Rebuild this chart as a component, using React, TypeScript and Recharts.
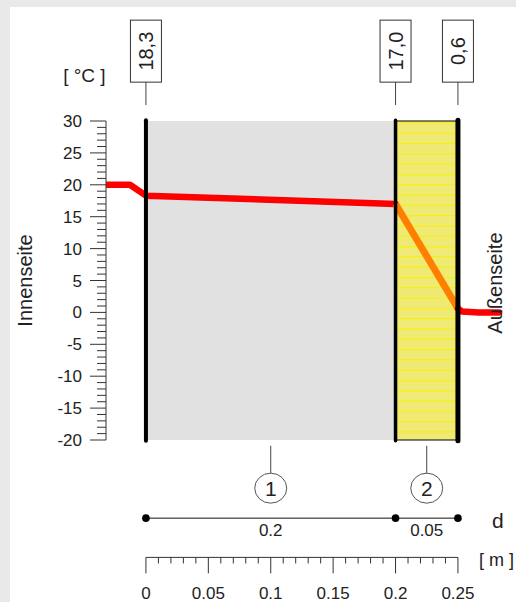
import React from 'react';
import {
  ComposedChart,
  Line,
  XAxis,
  YAxis,
  ReferenceArea,
  ReferenceLine,
  ReferenceDot,
} from 'recharts';

// ---- data ----
const boundaries = [0, 0.2, 0.25];
const layerNames = ['1', '2'];
const layerThickness = [0.2, 0.05];
const layerLabels = ['0.2', '0.05'];
const layerCenters = [0.1, 0.225];
const surfaceTemps = [18.3, 17.0, 0.6];
const surfaceLabels = ['18,3', '17,0', '0,6'];

const insideX = [-0.032, -0.0128, 0, 0.2];
const insideT = [20, 20, 18.3, 17.0];
const layer2X = [0.2, 0.25];
const layer2T = [17.0, 0.6];
const outsideX = [0.25, 0.2532, 0.2665, 0.283];
const outsideT = [0.6, 0.15, 0, 0];

const yTicks = [
  -20, -19, -18, -17, -16, -15, -14, -13, -12, -11, -10, -9, -8, -7, -6, -5, -4, -3, -2, -1,
  0, 1, 2, 3, 4, 5, 6, 7, 8, 9, 10, 11, 12, 13, 14, 15, 16, 17, 18, 19, 20, 21, 22, 23, 24, 25,
  26, 27, 28, 29, 30,
];
const rulerTicks = [
  0, 0.01, 0.02, 0.03, 0.04, 0.05, 0.06, 0.07, 0.08, 0.09, 0.1, 0.11, 0.12, 0.13, 0.14, 0.15,
  0.16, 0.17, 0.18, 0.19, 0.2, 0.21, 0.22, 0.23, 0.24, 0.25,
];
const rulerMajor = [0, 0.05, 0.1, 0.15, 0.2, 0.25];
const rulerLabels = ['0', '0.05', '0.1', '0.15', '0.2', '0.25'];

const toPoints = (xs: number[], ts: number[]) => xs.map((x, i) => ({ x, t: ts[i] }));
const insideData = toPoints(insideX, insideT);
const layer2Data = toPoints(layer2X, layer2T);
const outsideData = toPoints(outsideX, outsideT);

// positions (in temperature units) of the annotation rows outside the plot
const Y_BOX = 40.95;
const Y_BOX_LINE_TOP = 36.1;
const Y_BOX_LINE_BOTTOM = 32.5;
const Y_UNIT_LABEL = 36.1;
const Y_CIRCLE_LINE_TOP = -20.9;
const Y_CIRCLE_LINE_BOTTOM = -25.3;
const Y_CIRCLE = -27.55;
const Y_DIM = -32.25;
const Y_DIM_LABEL = -35.1;
const Y_D = -33.8;
const Y_RULER = -38.4;
const Y_RULER_MINOR = -39.35;
const Y_RULER_MAJOR = -40.9;
const Y_RULER_LABEL = -44.9;
const Y_M = -39.8;

const FONT = '"Liberation Sans", Arial, sans-serif';
const TEXT = '#222';

const YTick = (props: any) => {
  const { x, y, payload } = props;
  const v = payload.value;
  const major = v % 5 === 0;
  return (
    <g>
      <line x1={x - (major ? 16 : 9)} x2={x} y1={y} y2={y} stroke="#333" strokeWidth={1} />
      {major && (
        <text x={x - 24} y={y} dy={6} textAnchor="end" fontSize={17} fontFamily={FONT} fill={TEXT}>
          {v}
        </text>
      )}
    </g>
  );
};

const textShape =
  (value: string, size: number, anchor: string = 'middle', rotate = false) =>
  (p: any) => {
    if (rotate) {
      return (
        <text
          x={p.cx}
          y={p.cy}
          transform={`rotate(-90 ${p.cx} ${p.cy})`}
          textAnchor="middle"
          dominantBaseline="central"
          fontSize={size}
          fontFamily={FONT}
          fill={TEXT}
        >
          {value}
        </text>
      );
    }
    return (
      <text x={p.cx} y={p.cy} textAnchor={anchor as any} fontSize={size} fontFamily={FONT} fill={TEXT}>
        {value}
      </text>
    );
  };

const boxShape = (value: string) => (p: any) => (
  <g>
    <rect x={p.cx - 15.5} y={p.cy - 31} width={31} height={62} fill="#fff" stroke="#333" strokeWidth={1} />
    <text
      x={p.cx}
      y={p.cy}
      transform={`rotate(-90 ${p.cx} ${p.cy})`}
      textAnchor="middle"
      dominantBaseline="central"
      fontSize={20}
      fontFamily={FONT}
      fill={TEXT}
    >
      {value}
    </text>
  </g>
);

const circleShape = (value: string) => (p: any) => (
  <g>
    <ellipse cx={p.cx} cy={p.cy} rx={16} ry={15} fill="#fff" stroke="#555" strokeWidth={1} />
    <text
      x={p.cx}
      y={p.cy}
      textAnchor="middle"
      dominantBaseline="central"
      fontSize={21}
      fontFamily={FONT}
      fill={TEXT}
    >
      {value}
    </text>
  </g>
);

export default function App() {
  const wallWidths = [4, 3.5, 5];
  return (
    <div style={{ position: 'absolute', left: 0, top: 0, width: 516, height: 602, background: '#e9e9e9' }}>
      <div style={{ position: 'absolute', left: 10, top: 7, width: 506, height: 595, background: '#fff' }}>
        <ComposedChart
          width={506}
          height={595}
          margin={{ top: 114, right: 8.14, bottom: 162, left: 56 }}
          style={{ overflow: 'visible' }}
        >
          <defs>
            <pattern id="stripes" patternUnits="userSpaceOnUse" width={10} height={10.3} y={2.1}>
              <rect x={0} y={0} width={10} height={10.3} fill="#efe976" />
              <rect x={0} y={0} width={10} height={1} fill="#f8f200" />
            </pattern>
          </defs>
          <XAxis type="number" dataKey="x" domain={[-0.032, 0.29]} allowDataOverflow hide />
          <YAxis
            type="number"
            domain={[-20, 30]}
            ticks={yTicks}
            interval={0}
            width={40}
            tickSize={0}
            tickMargin={0}
            tickLine={false}
            axisLine={{ stroke: '#333', strokeWidth: 1 }}
            tick={(p: any) => <YTick {...p} />}
            allowDataOverflow
          />

          {/* layers */}
          <ReferenceArea x1={boundaries[0]} x2={boundaries[1]} y1={-20} y2={30} fill="#e1e1e1" fillOpacity={1} stroke="none" ifOverflow="visible" />
          <ReferenceArea x1={boundaries[1]} x2={boundaries[2]} y1={-20} y2={30} fill="url(#stripes)" fillOpacity={1} stroke="#000" strokeWidth={1} ifOverflow="visible" />

          {/* temperature profile */}
          <Line data={insideData} dataKey="t" type="linear" stroke="#ff0000" strokeWidth={6.5} dot={false} isAnimationActive={false} strokeLinecap="round" strokeLinejoin="round" />
          <Line data={layer2Data} dataKey="t" type="linear" stroke="#ff7f00" strokeWidth={7} dot={false} isAnimationActive={false} />
          <Line data={outsideData} dataKey="t" type="linear" stroke="#ff0000" strokeWidth={6.5} dot={false} isAnimationActive={false} strokeLinecap="round" strokeLinejoin="round" />

          {/* walls */}
          {boundaries.map((b, i) => (
            <ReferenceLine
              key={'wall' + i}
              segment={[{ x: b, y: -20.1 }, { x: b, y: 30.1 }]}
              stroke="#000"
              strokeWidth={wallWidths[i]}
              strokeLinecap="round"
              ifOverflow="visible"
            />
          ))}

          {/* surface temperature boxes */}
          {boundaries.map((b, i) => (
            <ReferenceLine
              key={'bl' + i}
              segment={[{ x: b, y: Y_BOX_LINE_TOP }, { x: b, y: Y_BOX_LINE_BOTTOM }]}
              stroke="#444"
              strokeWidth={1}
              ifOverflow="visible"
            />
          ))}
          {boundaries.map((b, i) => (
            <ReferenceDot key={'box' + i} x={b} y={Y_BOX} r={1} ifOverflow="visible" shape={boxShape(surfaceLabels[i])} />
          ))}

          {/* layer numbers */}
          {layerCenters.map((c, i) => (
            <ReferenceLine
              key={'cl' + i}
              segment={[{ x: c, y: Y_CIRCLE_LINE_TOP }, { x: c, y: Y_CIRCLE_LINE_BOTTOM }]}
              stroke="#444"
              strokeWidth={1}
              ifOverflow="visible"
            />
          ))}
          {layerCenters.map((c, i) => (
            <ReferenceDot key={'c' + i} x={c} y={Y_CIRCLE} r={1} ifOverflow="visible" shape={circleShape(layerNames[i])} />
          ))}

          {/* thickness dimension line */}
          <ReferenceLine
            segment={[{ x: boundaries[0], y: Y_DIM }, { x: boundaries[2], y: Y_DIM }]}
            stroke="#111"
            strokeWidth={1}
            ifOverflow="visible"
          />
          {boundaries.map((b, i) => (
            <ReferenceDot key={'dd' + i} x={b} y={Y_DIM} r={3.8} fill="#000" stroke="none" ifOverflow="visible" />
          ))}
          {layerCenters.map((c, i) => (
            <ReferenceDot key={'dl' + i} x={c} y={Y_DIM_LABEL} r={1} ifOverflow="visible" shape={textShape(layerLabels[i], 17)} />
          ))}
          <ReferenceDot x={0.282} y={Y_D} r={1} ifOverflow="visible" shape={textShape('d', 21)} />

          {/* ruler */}
          <ReferenceLine
            segment={[{ x: rulerTicks[0], y: Y_RULER }, { x: rulerTicks[rulerTicks.length - 1], y: Y_RULER }]}
            stroke="#333"
            strokeWidth={1}
            ifOverflow="visible"
          />
          {rulerTicks.map((t, i) => (
            <ReferenceLine
              key={'rt' + i}
              segment={[{ x: t, y: Y_RULER }, { x: t, y: i % 5 === 0 ? Y_RULER_MAJOR : Y_RULER_MINOR }]}
              stroke="#333"
              strokeWidth={1}
              ifOverflow="visible"
            />
          ))}
          {rulerMajor.map((t, i) => (
            <ReferenceDot key={'rl' + i} x={t} y={Y_RULER_LABEL} r={1} ifOverflow="visible" shape={textShape(rulerLabels[i], 17)} />
          ))}
          <ReferenceDot x={0.2668} y={Y_M} r={1} ifOverflow="visible" shape={textShape('[ m ]', 18, 'start')} />

          {/* unit and side labels */}
          <ReferenceDot x={-0.0493} y={Y_UNIT_LABEL} r={1} ifOverflow="visible" shape={textShape('[ °C ]', 19)} />
          <ReferenceDot x={-0.0968} y={5.0} r={1} ifOverflow="visible" shape={textShape('Innenseite', 20, 'middle', true)} />
          <ReferenceDot x={0.2796} y={4.6} r={1} ifOverflow="visible" shape={textShape('Außenseite', 20, 'middle', true)} />
        </ComposedChart>
      </div>
    </div>
  );
}
